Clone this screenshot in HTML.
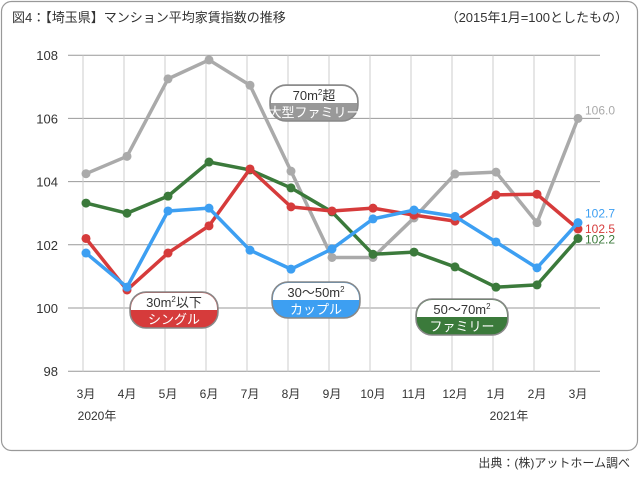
<!DOCTYPE html>
<html><head><meta charset="utf-8"><style>
body{margin:0;background:#fff;width:640px;height:472px;overflow:hidden;font-family:"Liberation Sans","Noto Sans CJK JP",sans-serif}
</style></head><body>
<svg width="640" height="472" xmlns="http://www.w3.org/2000/svg" font-family="Liberation Sans, Noto Sans CJK JP, sans-serif">
<rect x="1.5" y="1.5" width="636" height="449" rx="10" fill="#fff" stroke="#999" stroke-width="1.2"/>
<text x="12" y="22" font-size="13" fill="#333">図4：【埼玉県】マンション平均家賃指数の推移</text>
<text x="628" y="22" font-size="13" fill="#333" text-anchor="end">（2015年1月=100としたもの）</text>
<text x="630" y="467" font-size="12" fill="#333" text-anchor="end">出典：(株)アットホーム調べ</text>
<g id="grid"></g><g id="series"></g><g id="labels"></g>
</svg>
<script>
const months=["3月","4月","5月","6月","7月","8月","9月","10月","11月","12月","1月","2月","3月"];
const yTicks=[98,100,102,104,106,108];
const gray=[104.25,104.8,107.25,107.85,107.05,104.33,101.6,101.6,102.85,104.24,104.3,102.7,106.0];
const green=[103.32,103.0,103.54,104.62,104.37,103.8,103.04,101.7,101.77,101.3,100.66,100.73,102.2];
const red=[102.2,100.57,101.74,102.6,104.4,103.2,103.07,103.16,102.94,102.75,103.58,103.6,102.5];
const blue=[101.74,100.66,103.07,103.16,101.83,101.23,101.87,102.82,103.1,102.9,102.09,101.27,102.7];
const NS="http://www.w3.org/2000/svg";
const x=i=>86+i*41;
const y=v=>308-(v-100)*31.6;
function mk(t,a,p){const e=document.createElementNS(NS,t);for(const k in a)e.setAttribute(k,a[k]);(p||document.getElementById('grid')).appendChild(e);return e;}
yTicks.forEach(v=>{
 const l=mk('line',{x1:68,x2:600,y1:y(v),y2:y(v),stroke:'#999','stroke-width':1});
 
 
 const t=mk('text',{x:58,y:y(v)+5,'font-size':13,fill:'#333','text-anchor':'end'});
 t.textContent=v;
 
 
});
months.forEach((m,i)=>{
 const l=mk('line',{x1:x(i)-3,x2:x(i)-3,y1:y(108),y2:y(98),stroke:'#ccc','stroke-width':1});
 
 
 const t=mk('text',{x:x(i),y:398,'font-size':12,fill:'#333','text-anchor':'middle'});
 t.textContent=m;
 
 
});
[[97,"2020年"],[509,"2021年"]].forEach(([px,s])=>{const t=mk('text',{x:px,y:420,'font-size':12,fill:'#333','text-anchor':'middle'});t.textContent=s;
 
 });
const sg=document.getElementById('series');
[[gray,'#aaaaaa','series-70m2-large'],[green,'#3b7a3b','series-50-70m2-family'],[red,'#d63b3b','series-30m2-single'],[blue,'#3d9ff2','series-30-50m2-couple']].forEach(([d,c,n])=>{
 const pl=mk('polyline',{points:d.map((v,i)=>x(i)+','+y(v)).join(' '),fill:'none',stroke:c,'stroke-width':3.5,'stroke-linejoin':'round'},sg);
 
 
 d.forEach((v,i)=>{const p=mk('circle',{cx:x(i),cy:y(v),r:4.5,fill:c},sg);
 
 });
 const t=mk('text',{x:585,y:0,'font-size':12,fill:c},sg);
 t.textContent=d[12].toFixed(1);
 
 
 t.setAttribute('y',{'series-70m2-large':y(d[12])-4,'series-50-70m2-family':y(d[12])+5,'series-30m2-single':y(d[12])+4,'series-30-50m2-couple':y(d[12])-5}[n]);
});
const lg=document.getElementById('labels');
function box(cx,cy,w,c,top,bot,name){
 const gg=mk('g',{},lg);
 
 
 mk('rect',{x:cx-w/2,y:cy,width:w,height:36,rx:16,fill:c,stroke:'#888','stroke-width':1.5},gg);
 mk('path',{d:`M${cx-w/2+1} ${cy+18} V${cy+16} A15 15 0 0 1 ${cx-w/2+16} ${cy+1} H${cx+w/2-16} A15 15 0 0 1 ${cx+w/2-1} ${cy+16} V${cy+18} Z`,fill:'#fff'},gg);
 const a=mk('text',{x:cx,y:cy+15,'font-size':13,fill:'#333','text-anchor':'middle'},gg);a.innerHTML=top;
 const b=mk('text',{x:cx,y:cy+32,'font-size':13,fill:'#fff','text-anchor':'middle'},gg);b.textContent=bot;
}
box(314,85,88,'#999','70m<tspan font-size="8" dy="-5">2</tspan><tspan dy="5">超</tspan>','大型ファミリー','label-70m2');
box(174,292,88,'#d63b3b','30m<tspan font-size="8" dy="-5">2</tspan><tspan dy="5">以下</tspan>','シングル','label-30m2');
box(316,282,88,'#3d9ff2','30〜50m<tspan font-size="8" dy="-5">2</tspan>','カップル','label-30-50m2');
box(462,299,92,'#3b7a3b','50〜70m<tspan font-size="8" dy="-5">2</tspan>','ファミリー','label-50-70m2');
</script>
</body></html>
